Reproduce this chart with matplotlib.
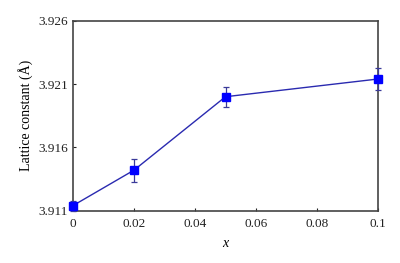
import matplotlib
matplotlib.use("Agg")
import matplotlib.pyplot as plt

# donnees
x = [0, 0.02, 0.05, 0.1]
a = [3.9114, 3.9142, 3.9200, 3.9214]
err = [0.0004, 0.0009, 0.0008, 0.0009]

xticks = [0, 0.02, 0.04, 0.06, 0.08, 0.1]
xticklabels = ["0", "0.02", "0.04", "0.06", "0.08", "0.1"]
yticks = [3.911, 3.916, 3.921, 3.926]

plt.rcParams["font.family"] = ["Liberation Serif", "DejaVu Serif"]

fig = plt.figure(figsize=(4, 2.63), dpi=100)
ax = fig.add_axes([0.1825, 0.199, 0.7625, 0.722])

ax.errorbar(x, a, yerr=err, color="#2a2ab0", lw=1.0, marker="s", ms=6,
            mfc="#0000ff", mec="#0000ff", ecolor="#3a3a9a", elinewidth=0.9,
            capsize=2.5, capthick=0.9, clip_on=False, zorder=3)

ax.set_xlim(0, 0.1)
ax.set_ylim(3.911, 3.926)
ax.set_xticks(xticks)
ax.set_xticklabels(xticklabels)
ax.set_yticks(yticks)
ax.tick_params(direction="in", length=2, width=0.8, labelsize=9.5, colors="#222222")
ax.tick_params(axis="x", pad=5)
for s in ax.spines.values():
    s.set_color("#444444")
    s.set_linewidth(1.2)

ax.set_xlabel("x", fontstyle="italic", fontsize=10, labelpad=5)
ax.set_ylabel("Lattice constant (Å)", fontsize=10, labelpad=4)

fig.savefig("out.png", dpi=100)
